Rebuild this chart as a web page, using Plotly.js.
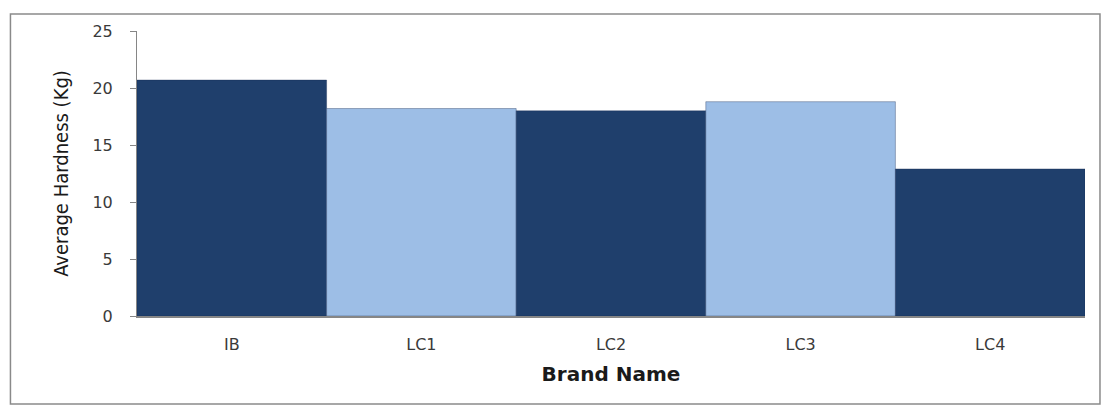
<!DOCTYPE html>
<html>
<head>
<meta charset="utf-8">
<script src="https://cdn.plot.ly/plotly-3.0.1.min.js"></script>
<style>
html,body{margin:0;padding:0;background:#fff;}
#chart{width:1102px;height:405px;}
</style>
</head>
<body>
<div id="chart"></div>
<script>
var brands = ["IB", "LC1", "LC2", "LC3", "LC4"];
var hardness = [20.7, 18.2, 18.0, 18.8, 12.9];
var barColors = ["#1f3f6c", "#9dbee6", "#1f3f6c", "#9dbee6", "#1f3f6c"];
var yTicks = [0, 5, 10, 15, 20, 25];

var trace = {
  type: "bar",
  x: brands,
  y: hardness,
  marker: {color: barColors, line: {color: "rgba(20,40,80,0.35)", width: 1}},
  hoverinfo: "x+y"
};

var layout = {
  width: 1102,
  height: 405,
  margin: {l: 137, r: 17, t: 31, b: 89},
  paper_bgcolor: "#ffffff",
  plot_bgcolor: "#ffffff",
  bargap: 0,
  showlegend: false,
  font: {family: "'DejaVu Sans', sans-serif", color: "#404040"},
  xaxis: {
    type: "category",
    showline: true,
    linecolor: "#868686",
    linewidth: 1.5,
    ticks: "",
    ticklabelstandoff: 13,
    tickfont: {size: 16, color: "#3a3a3a"},
    title: {text: "<b>Brand Name</b>", font: {size: 20, color: "#1a1a1a", family: "'DejaVu Sans', sans-serif"}, standoff: 14}
  },
  yaxis: {
    range: [0, 25],
    tickvals: yTicks,
    showline: true,
    linecolor: "#868686",
    linewidth: 1,
    ticks: "outside",
    ticklen: 6,
    tickcolor: "#868686",
    ticklabelstandoff: 14,
    showgrid: false,
    zeroline: false,
    tickfont: {size: 16, color: "#3a3a3a"},
    title: {text: "Average Hardness (Kg)", font: {size: 20, color: "#1a1a1a", family: "'Liberation Sans Narrow', 'DejaVu Sans Condensed', sans-serif"}, standoff: 18}
  },
  shapes: [{
    type: "rect", xref: "paper", yref: "paper",
    x0: -0.1335, x1: 1.0158, y0: -0.3088, y1: 1.0596,
    line: {color: "#8a8a8a", width: 1.5},
    fillcolor: "rgba(0,0,0,0)",
    layer: "below"
  }]
};

Plotly.newPlot("chart", [trace], layout, {displayModeBar: false, staticPlot: true});
</script>
</body>
</html>
